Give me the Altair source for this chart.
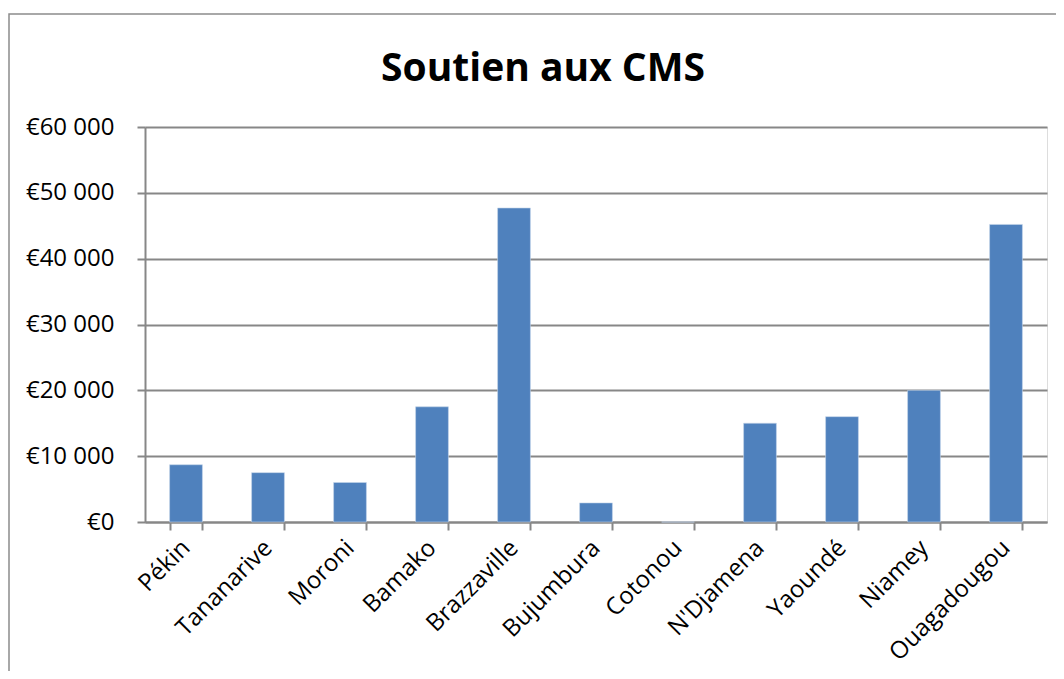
import altair as alt
import pandas as pd

villes = ["Pékin", "Tananarive", "Moroni", "Bamako", "Brazzaville", "Bujumbura",
          "Cotonou", "N'Djamena", "Yaoundé", "Niamey", "Ouagadougou"]
montants = [8700, 7500, 6000, 17500, 47700, 2900, 0, 15000, 16000, 20000, 45200]
titre = "Soutien aux CMS"

df = pd.DataFrame({"ville": villes, "montant": montants})

FONT = "Open Sans"
GRID = "#878787"

border = alt.Chart(pd.DataFrame({"k": [0]})).mark_rect(
    fill="transparent", stroke="#8c8c8c", strokeWidth=1.5, clip=False
).encode(
    x=alt.value(-136), x2=alt.value(960),
    y=alt.value(-113), y2=alt.value(700),
)

title = alt.Chart(pd.DataFrame({"k": [0]})).mark_text(
    font=FONT, fontSize=39, fontWeight="bold", color="#000000",
    align="center", baseline="alphabetic", clip=False
).encode(x=alt.value(398), y=alt.value(-46), text=alt.value(titre))

bars = alt.Chart(df).mark_bar(color="#4F81BD", stroke="#c5d5ea", strokeWidth=0.6).encode(
    x=alt.X("ville:N", sort=villes,
            scale=alt.Scale(paddingInner=0.6, paddingOuter=0.3),
            axis=alt.Axis(title=None, labelAngle=-45, labelAlign="right",
                          labelBaseline="middle", labelFontSize=24, labelFont=FONT,
                          labelColor="#000000", tickBand="extent", ticks=True,
                          tickSize=8, tickColor=GRID, domainColor=GRID,
                          domainWidth=2, tickWidth=2, labelPadding=14,
                          grid=False)),
    y=alt.Y("montant:Q", scale=alt.Scale(domain=[0, 60000], nice=False),
            axis=alt.Axis(title=None, values=[0, 10000, 20000, 30000, 40000, 50000, 60000],
                          labelExpr="'€' + replace(format(datum.value, ','), ',', ' ')",
                          labelFontSize=24, labelFont=FONT, labelColor="#000000",
                          tickSize=8, tickColor=GRID, tickWidth=2, domainColor=GRID,
                          domainWidth=2, gridColor=GRID, gridWidth=2, labelPadding=23)),
)

chart = alt.layer(border, bars, title).properties(
    width=902, height=395,
    autosize=alt.AutoSizeParams(type="none"),
    padding={"left": 137, "top": 119, "right": 9, "bottom": 149},
).configure_view(stroke=None).configure(background="white")

chart.save("out.html", embed_options={"renderer": "svg", "actions": False})
